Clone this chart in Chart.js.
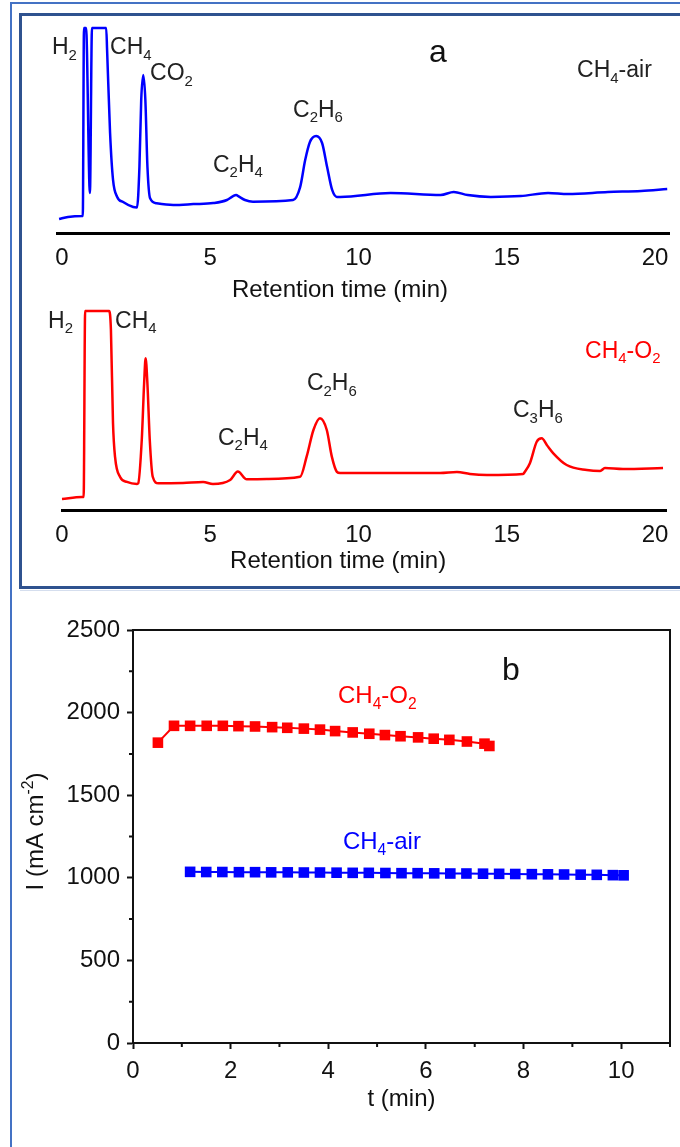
<!DOCTYPE html>
<html>
<head>
<meta charset="utf-8">
<script src="https://cdn.jsdelivr.net/npm/chart.js@4.4.0/dist/chart.umd.min.js"></script>
<style>
  body { margin: 0; background: #fff; width: 680px; height: 1147px; overflow: hidden; position: relative; }
  .box { position: absolute; box-sizing: border-box; }
  canvas { position: absolute; }
</style>
</head>
<body>
<div class="box" style="left:10px;top:2px;width:700px;height:1200px;border-left:2px solid #4472C4;border-top:2px solid #4472C4;"></div>
<div class="box" style="left:19px;top:13px;width:700px;height:576px;border:3px solid #2F528F;"></div>
<div class="box" style="left:20px;top:590px;width:660px;height:1px;background:#D5DEEE;"></div>
<canvas id="gcAir" width="660" height="290" style="left:20px;top:14px;"></canvas>
<canvas id="gcO2" width="660" height="283" style="left:20px;top:304px;"></canvas>
<canvas id="stab" width="668" height="555" style="left:12px;top:592px;"></canvas>
<script>
// panel a, CH4-air run: retention time (min) and detector signal (a.u., 100 = saturated)
const airTime = [-0.10, 0.20, 0.68, 0.70, 0.74, 0.81, 0.94, 1.01, 1.49, 1.52, 1.62, 1.72, 1.86, 2.06, 2.40,
  2.53, 2.61, 2.67, 2.74, 2.81, 2.88, 2.97, 3.19, 3.75, 4.43, 5.10, 5.56, 5.77, 5.87, 5.97, 6.17, 6.44,
  7.79, 8.03, 8.20, 8.36, 8.57, 8.77, 8.94, 9.11, 9.27, 9.39, 11.08, 12.77, 13.21, 13.68, 14.46, 15.47,
  16.39, 17.06, 18.41, 19.53, 20.41];
const airSignal = [6.8, 7.8, 8.3, 8.3, 100, 100, 19.5, 100, 100, 89, 48.8, 25.9, 17.6, 15.1, 12.7,
  12.5, 32.3, 64.9, 77.1, 64.9, 32.3, 16.9, 14.5, 13.7, 14.1, 14.6, 16.1, 18.0, 18.5, 17.7, 16.1, 15.3,
  16.1, 22.4, 35.6, 44.4, 47.3, 43.9, 32.2, 21.0, 17.6, 17.6, 19.5, 18.5, 20, 18.5, 17.6, 18,
  19.5, 19, 20, 20.5, 21.5];

// panel a, CH4-O2 run
const o2Time = [0.00, 0.67, 0.73, 0.78, 1.59, 1.65, 1.72, 1.79, 1.96, 2.19, 2.53, 2.57, 2.69, 2.77, 2.82,
  2.88, 2.96, 3.06, 3.25, 4.08, 4.76, 5.09, 5.67, 5.93, 6.23, 6.91, 8.03, 8.25, 8.48, 8.70, 8.93, 9.10,
  9.27, 9.38, 11.06, 12.75, 13.32, 13.76, 14.33, 15.55, 15.61, 15.78, 16.01, 16.18, 16.35, 16.57, 17.02,
  17.70, 18.15, 18.31, 18.92, 20.27];
const o2Signal = [5.5, 6.5, 6.5, 100, 100, 90.5, 43.7, 26.6, 16.6, 14.1, 13.1, 13.4, 35.2, 63.7, 76.2,
  63.7, 35.2, 16.7, 13.4, 13.6, 14.1, 13.1, 15.1, 19.3, 15.4, 15.6, 16.7, 26.8, 40.2, 46.1, 40.2, 26.8,
  19.2, 18.6, 18.6, 18.6, 19.1, 18.1, 17.6, 18.1, 19.2, 23.5, 34.3, 36.0, 32.7, 28.5, 22.6,
  20.1, 19.6, 21.1, 20.6, 21.1];

// peak labels (text, retention time, signal at the text baseline)
const airPeakText = ['H_2', 'CH_4', 'CO_2', 'C_2H_4', 'C_2H_6'];
const airPeakX = [-0.34, 1.62, 2.97, 5.09, 7.79];
const airPeakY = [87.3, 87.3, 74.6, 29.8, 56.6];
const o2PeakText = ['H_2', 'CH_4', 'C_2H_4', 'C_2H_6', 'C_3H_6'];
const o2PeakX = [-0.47, 1.79, 5.26, 8.26, 15.21];
const o2PeakY = [91.5, 91.5, 32.7, 60.3, 46.7];

// panel b: current density (mA cm-2) against time (min)
const o2StabTime = [0.51, 0.84, 1.17, 1.51, 1.84, 2.16, 2.50, 2.85, 3.16, 3.50, 3.83, 4.14, 4.50, 4.84,
  5.16, 5.48, 5.84, 6.16, 6.48, 6.84, 7.20, 7.30];
const o2StabCurrent = [1818, 1920, 1920, 1920, 1920, 1918, 1916, 1912, 1908, 1903, 1897, 1888, 1880, 1872,
  1864, 1857, 1850, 1842, 1835, 1825, 1812, 1798];
const airStabTime = [1.17, 1.50, 1.83, 2.17, 2.50, 2.83, 3.17, 3.50, 3.83, 4.17, 4.50, 4.83, 5.17, 5.50,
  5.83, 6.17, 6.50, 6.83, 7.17, 7.50, 7.83, 8.17, 8.50, 8.83, 9.17, 9.50, 9.83, 10.05];
const airStabCurrent = [1036, 1035, 1035, 1034, 1034, 1033, 1033, 1032, 1032, 1031, 1030, 1030, 1029, 1028,
  1028, 1027, 1026, 1026, 1025, 1024, 1023, 1022, 1021, 1020, 1019, 1018, 1016, 1015];

const FONT = "'Liberation Sans', Arial, sans-serif";

// text with _x subscripts and ^{..} superscripts
function parseRich(str) {
  const parts = [];
  for (let i = 0; i < str.length; i++) {
    const c = str[i];
    if (c === '_') { parts.push({ t: str[i + 1], k: 'sub' }); i++; }
    else if (c === '^' && str[i + 1] === '{') {
      const end = str.indexOf('}', i);
      parts.push({ t: str.slice(i + 2, end), k: 'sup' });
      i = end;
    } else {
      if (parts.length && parts[parts.length - 1].k === 'n') parts[parts.length - 1].t += c;
      else parts.push({ t: c, k: 'n' });
    }
  }
  return parts;
}

function drawRich(ctx, str, x, y, size, color, align) {
  const parts = parseRich(str);
  const small = size * 0.65;
  let w = 0;
  parts.forEach(p => {
    ctx.font = (p.k === 'n' ? size : small) + 'px ' + FONT;
    p.w = ctx.measureText(p.t).width;
    w += p.w;
  });
  let cx = align === 'center' ? x - w / 2 : x;
  ctx.fillStyle = color;
  ctx.textBaseline = 'alphabetic';
  ctx.textAlign = 'left';
  parts.forEach(p => {
    let dy = 0;
    if (p.k === 'sub') dy = size * 0.24;
    if (p.k === 'sup') dy = -size * 0.4;
    ctx.font = (p.k === 'n' ? size : small) + 'px ' + FONT;
    ctx.fillText(p.t, cx, y + dy);
    cx += p.w;
  });
}

// draws option lists of labels anchored in data coordinates
const richText = {
  id: 'richText',
  afterDatasetsDraw(chart, args, opts) {
    const ctx = chart.ctx, xs = chart.scales.x, ys = chart.scales.y;
    ctx.save();
    (opts.items || []).forEach(it => {
      drawRich(ctx, it.text, xs.getPixelForValue(it.x), ys.getPixelForValue(it.y), it.size, it.color, it.align);
    });
    if (opts.yTitle) {
      const a = chart.chartArea;
      ctx.translate(a.left - 98, (a.top + a.bottom) / 2 - 5);
      ctx.rotate(-Math.PI / 2);
      drawRich(ctx, opts.yTitle, 0, 8, 24, '#111', 'center');
    }
    ctx.restore();
  }
};

// box around the plot and short minor ticks
const frameTicks = {
  id: 'frameTicks',
  afterDraw(chart) {
    const ctx = chart.ctx, a = chart.chartArea, xs = chart.scales.x, ys = chart.scales.y;
    ctx.save();
    ctx.strokeStyle = '#111';
    ctx.lineWidth = 2;
    ctx.strokeRect(a.left, a.top, a.right - a.left, a.bottom - a.top);
    ctx.beginPath();
    for (let t = 1; t <= 11; t += 2) {
      const px = xs.getPixelForValue(t);
      ctx.moveTo(px, a.bottom); ctx.lineTo(px, a.bottom + 4);
    }
    for (let v = 250; v < 2500; v += 500) {
      const py = ys.getPixelForValue(v);
      ctx.moveTo(a.left, py); ctx.lineTo(a.left - 4, py);
    }
    ctx.stroke();
    ctx.restore();
  }
};

function pairs(xs, ys) { return xs.map((x, i) => ({ x: x, y: ys[i] })); }
function peakItems(texts, xs, ys) {
  return texts.map((t, i) => ({ text: t, x: xs[i], y: ys[i], size: 23, color: '#222' }));
}
const plain = v => String(v);

function chromatogram(id, time, signal, color, xMin, xMax, padding, axisHeight, items) {
  return new Chart(id, {
    type: 'line',
    data: { datasets: [{ data: pairs(time, signal), borderColor: color, borderWidth: 2.5, pointRadius: 0,
      cubicInterpolationMode: 'monotone', fill: false, clip: 4 }] },
    options: {
      responsive: false, animation: false,
      layout: { padding: padding },
      plugins: { legend: { display: false }, tooltip: { enabled: false }, richText: { items: items } },
      scales: {
        x: {
          type: 'linear', min: xMin, max: xMax,
          afterFit(scale) { scale.height = axisHeight; },
          grid: { display: false },
          border: { color: '#000', width: 3 },
          ticks: { stepSize: 5, includeBounds: false, padding: 3, color: '#111', callback: plain,
            font: { family: FONT, size: 24 } }
        },
        y: { display: false, min: 0, max: 100 }
      }
    },
    plugins: [richText]
  });
}

chromatogram('gcAir', airTime, airSignal, '#0000FF', -0.17, 20.47, { left: 37, right: 11, top: 14, bottom: 0 }, 71,
  peakItems(airPeakText, airPeakX, airPeakY).concat([
    { text: 'a', x: 12.38, y: 83.4, size: 32, color: '#111' },
    { text: 'CH_4-air', x: 17.37, y: 76.1, size: 23, color: '#222' },
    { text: 'Retention time (min)', x: 5.73, y: -31.2, size: 24, color: '#111' }
  ]));

chromatogram('gcO2', o2Time, o2Signal, '#FF0000', 0, 20.37, { left: 42, right: 14, top: 7, bottom: 0 }, 77,
  peakItems(o2PeakText, o2PeakX, o2PeakY).concat([
    { text: 'CH_4-O_2', x: 17.64, y: 76.4, size: 23, color: '#FF0000' },
    { text: 'Retention time (min)', x: 5.67, y: -29.1, size: 24, color: '#111' }
  ]));

new Chart('stab', {
  type: 'line',
  data: {
    datasets: [
      { data: pairs(o2StabTime, o2StabCurrent), borderColor: '#FF0000', backgroundColor: '#FF0000', borderWidth: 2,
        pointStyle: 'rect', pointRadius: 7.5, pointBorderWidth: 0, tension: 0 },
      { data: pairs(airStabTime, airStabCurrent), borderColor: '#0000FF', backgroundColor: '#0000FF', borderWidth: 2,
        pointStyle: 'rect', pointRadius: 7.5, pointBorderWidth: 0, tension: 0 }
    ]
  },
  options: {
    responsive: false, animation: false,
    layout: { padding: { left: 0, right: 10, top: 38, bottom: 0 } },
    plugins: {
      legend: { display: false }, tooltip: { enabled: false },
      richText: {
        items: [
          { text: 'b', x: 7.56, y: 2197, size: 32, color: '#111' },
          { text: 'CH_4-O_2', x: 4.20, y: 2058, size: 24, color: '#FF0000' },
          { text: 'CH_4-air', x: 4.30, y: 1174, size: 24, color: '#0000FF' }
        ],
        yTitle: 'I (mA cm^{-2})'
      }
    },
    scales: {
      x: {
        type: 'linear', min: 0, max: 11,
        afterFit(scale) { scale.height = 104; },
        grid: { drawOnChartArea: false, tickLength: 6, tickWidth: 2, tickColor: '#111' },
        border: { color: '#111', width: 2 },
        ticks: { stepSize: 2, includeBounds: false, padding: 8, color: '#111', callback: plain,
          font: { family: FONT, size: 24 } },
        title: { display: true, text: 't (min)', color: '#111', font: { family: FONT, size: 24 }, padding: { top: 0, bottom: 33 } }
      },
      y: {
        min: 0, max: 2500,
        afterFit(scale) { scale.width = 121; },
        grid: { drawOnChartArea: false, tickLength: 6, tickWidth: 2, tickColor: '#111' },
        border: { color: '#111', width: 2 },
        ticks: { stepSize: 500, includeBounds: false, padding: 7, color: '#111', callback: plain,
          font: { family: FONT, size: 24 } }
      }
    }
  },
  plugins: [richText, frameTicks]
});
</script>
</body>
</html>
